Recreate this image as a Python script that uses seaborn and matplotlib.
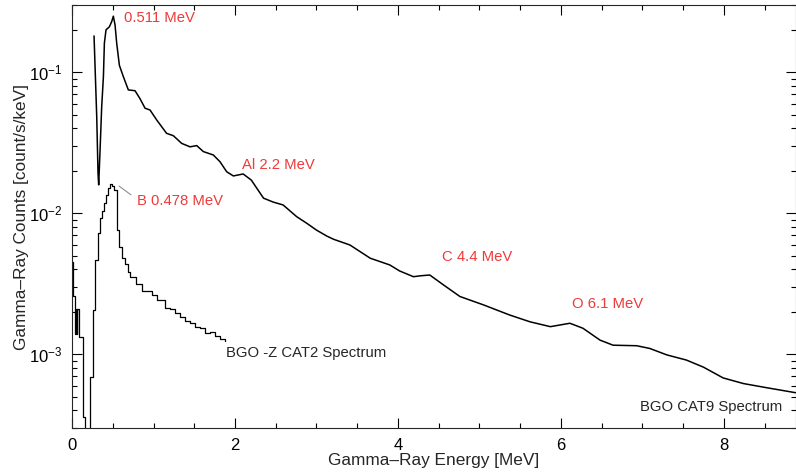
import numpy as np
import pandas as pd
import matplotlib
matplotlib.use("Agg")
import matplotlib.pyplot as plt
import seaborn as sns
from matplotlib.ticker import MultipleLocator, LogLocator

# ----------------------------
# Spectrum values
# ----------------------------

# BGO CAT9 spectrum (energy in MeV, counts/s/keV)
cat9_energy = [0.27, 0.303, 0.319, 0.327, 0.344, 0.364, 0.385, 0.397, 0.417, 0.458,
               0.487, 0.507, 0.528, 0.548, 0.581, 0.63, 0.691, 0.773, 0.834, 0.896,
               0.957, 1.039, 1.16, 1.243, 1.346, 1.448, 1.53, 1.611, 1.734, 1.816,
               1.898, 1.98, 2.10, 2.2, 2.35, 2.47, 2.59, 2.757, 2.88, 3.0,
               3.125, 3.21, 3.41, 3.49, 3.66, 3.90, 4.02, 4.19, 4.27, 4.39,
               4.56, 4.76, 5.05, 5.37, 5.62, 5.87, 6.11, 6.27, 6.48, 6.64,
               6.93, 7.09, 7.30, 7.54, 7.75, 7.99, 8.24, 8.52, 8.88]
cat9_counts = [0.181, 0.0484, 0.0192, 0.0159, 0.0281, 0.057, 0.093, 0.161, 0.20, 0.21,
               0.229, 0.25, 0.216, 0.161, 0.112, 0.093, 0.075, 0.074, 0.065, 0.0556,
               0.054, 0.0459, 0.0369, 0.0355, 0.0313, 0.0296, 0.0302, 0.0274, 0.0259, 0.0232,
               0.0197, 0.0184, 0.019, 0.0172, 0.0128, 0.012, 0.01146, 0.00946, 0.0085, 0.0076,
               0.0069, 0.00654, 0.00596, 0.00556, 0.0048, 0.0043, 0.0039, 0.00355, 0.0036, 0.00365,
               0.0031, 0.00257, 0.00224, 0.0019, 0.0017, 0.00157, 0.00166, 0.00153, 0.00126, 0.00116,
               0.00115, 0.0011, 0.00099, 0.00091, 0.00081, 0.00068, 0.00062, 0.00058, 0.000534]

# BGO -Z CAT2 spectrum (histogram: left bin edge, value)
cat2_energy = [0.0, 0.008, 0.041, 0.050, 0.058, 0.066, 0.090, 0.131, 0.164, 0.221,
               0.254, 0.282, 0.315, 0.344, 0.364, 0.393, 0.417, 0.446, 0.466, 0.487,
               0.519, 0.548, 0.581, 0.609, 0.650, 0.683, 0.712, 0.785, 0.855, 0.978,
               1.039, 1.141, 1.202, 1.264, 1.325, 1.387, 1.448, 1.509, 1.571, 1.632,
               1.693, 1.755, 1.816, 1.877]
cat2_counts = [0.0045, 0.0026, 0.0014, 0.0021, 0.0014, 0.0021, 0.00133, 0.00036, 0.0001, 0.00069,
               0.00206, 0.00467, 0.0072, 0.0092, 0.0103, 0.0118, 0.0135, 0.0150, 0.0161, 0.0157,
               0.0146, 0.0076, 0.0058, 0.0048, 0.0044, 0.00385, 0.00355, 0.00313, 0.0028, 0.00263,
               0.00243, 0.00212, 0.0021, 0.00196, 0.00183, 0.00173, 0.00166, 0.00155, 0.00154, 0.00141,
               0.00145, 0.00135, 0.00129, 0.00125]

# Line labels
line_labels = ["0.511 MeV", "B 0.478 MeV", "Al 2.2 MeV", "C 4.4 MeV", "O 6.1 MeV"]
line_label_x = [0.638, 0.80, 2.086, 4.54, 6.135]
line_label_y = [0.243, 0.0122, 0.022, 0.0049, 0.00228]

df9 = pd.DataFrame({"Energy": cat9_energy, "Counts": cat9_counts})
df2 = pd.DataFrame({"Energy": cat2_energy, "Counts": cat2_counts})

# ----------------------------
# Style
# ----------------------------

sns.set_style("ticks")
plt.rcParams["font.family"] = ["Liberation Sans", "DejaVu Sans"]
plt.rcParams["mathtext.fontset"] = "custom"
plt.rcParams["mathtext.rm"] = "Liberation Sans"
plt.rcParams["mathtext.it"] = "Liberation Sans"

fig = plt.figure(figsize=(7.96, 4.76), dpi=100)
ax = fig.add_axes([0.0905, 0.1008, 0.909, 0.8887])
ax.set_yscale("log")

sns.lineplot(data=df9, x="Energy", y="Counts", ax=ax, color="black", lw=1.1)
sns.lineplot(data=df2, x="Energy", y="Counts", ax=ax, color="black", lw=0.9,
             drawstyle="steps-post")

ax.set_xlim(0, 8.88)
ax.set_ylim(3e-4, 0.3)

red = "#ee3b3b"
for lab, xx, yy in zip(line_labels, line_label_x, line_label_y):
    ax.text(xx, yy, lab, color=red, fontsize=10.7, va="center", ha="left")

# leader line for the boron label
ax.plot([0.577, 0.724], [0.0156, 0.0135], color="gray", lw=0.7)

ax.text(1.89, 0.00102, "BGO -Z CAT2 Spectrum", fontsize=10.7, va="center", ha="left")
ax.text(6.97, 0.000423, "BGO CAT9 Spectrum", fontsize=10.7, va="center", ha="left")

ax.set_xlabel("Gamma\u2013Ray Energy [MeV]", fontsize=12.4, labelpad=0)
ax.set_ylabel("Gamma\u2013Ray Counts [count/s/keV]", fontsize=12.4, labelpad=0)

ax.xaxis.set_major_locator(MultipleLocator(2))
ax.xaxis.set_minor_locator(MultipleLocator(0.5))
ax.yaxis.set_major_locator(LogLocator(base=10))
ax.yaxis.set_minor_locator(LogLocator(base=10, subs=np.arange(2, 10)))

ax.tick_params(which="both", direction="in", top=True, right=True, labelsize=12,
               width=0.8, colors="black")
ax.tick_params(which="major", length=7, pad=7)
ax.tick_params(which="minor", length=3.5)
for s in ax.spines.values():
    s.set_linewidth(0.8)

plt.savefig("out.png", dpi=100)
